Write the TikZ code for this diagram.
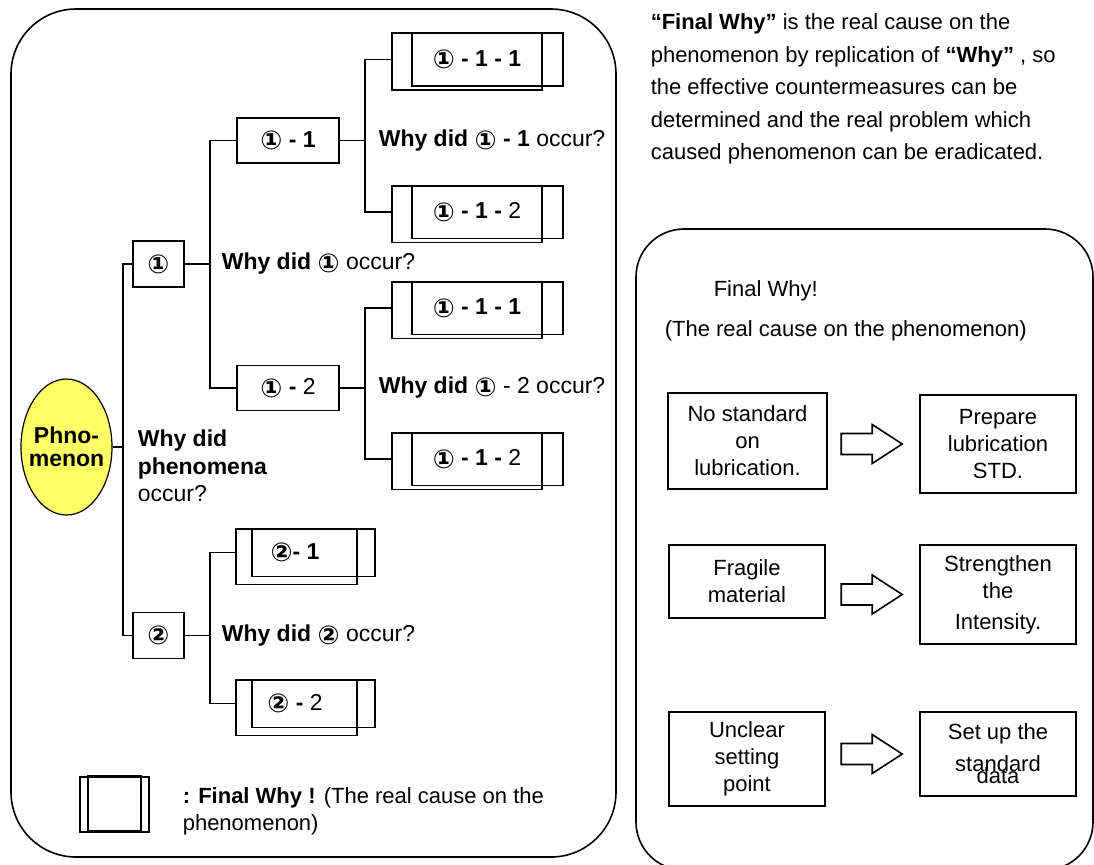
\documentclass[tikz,border=0pt]{standalone}
\usepackage{fontspec}
\setmainfont{Liberation Sans}
\newfontfamily\circfont{DejaVu Sans}
\usepackage{tikz}
\usetikzlibrary{shapes.geometric}
\definecolor{phyellow}{RGB}{255,255,102}
\newcommand{\cnone}{\raisebox{-1.3pt}{\circfont\bfseries\fontsize{13pt}{13pt}\selectfont ①}}
\newcommand{\cntwo}{\raisebox{-1.3pt}{\circfont\bfseries\fontsize{13pt}{13pt}\selectfont ②}}
\tikzset{
  font={\fontsize{11pt}{13.5pt}\selectfont}}

\begin{document}
\begin{tikzpicture}[x=0.5pt,y=-0.5pt,line width=0.8pt]
\tikzstyle{every node}+=[inner sep=0pt]
\tikzstyle{treefont}=[font={\fontsize{11.5pt}{13.75pt}\selectfont\bfseries}]
\tikzstyle{numbox}=[draw,minimum width=25.5pt,minimum height=23pt]
\tikzstyle{subbox}=[draw,treefont,minimum width=51pt,minimum height=22.5pt]
\tikzstyle{finalbox}=[treefont,minimum width=64pt,minimum height=25.5pt]
\tikzstyle{finalboxs}=[treefont,minimum width=42pt,minimum height=23pt]
\tikzstyle{whytext}=[treefont,anchor=west]
\tikzstyle{causebox}=[draw,align=center,minimum width=78pt]
\useasboundingbox (0,0) rectangle (1094,864);
% frames
\draw [rounded corners=32.5pt] (11,9) rectangle (616,857);
\draw [rounded corners=24pt] (636,229) rectangle (1093,870);
% tree
\node [ellipse,draw,fill=phyellow,line width=0.6pt,inner sep=-5pt,minimum width=45.5pt,minimum height=68pt,align=center,treefont] (ph) at (66.5,447) {Phno-\\[-2.5pt]menon};
\node [numbox] (b1) at (158.5,264) {\cnone};
\node [numbox] (b2) at (158.5,635.5) {\cntwo};
\node [subbox] (b11) at (288,140.5) {\cnone\ - 1};
\node [subbox] (b12) at (288,388) {\cnone\ - \mdseries 2};
\node [finalbox] (b111) at (477,59.5) {\cnone\ - 1 - 1};
\node [finalbox] (b112) at (477,212) {\cnone\ - 1 - \mdseries 2};
\node [finalbox] (b121) at (477,308) {\cnone\ - 1 - 1};
\node [finalbox] (b122) at (477,459) {\cnone\ - 1 - \mdseries 2};
\node [finalboxs] (b21) at (295,552.5) {\cntwo- 1};
\node [finalboxs] (b22) at (295,703.5) {\cntwo\ - \mdseries 2};
\foreach \n/\l/\ra/\rb/\d in {b111/10pt/0pt/10.5pt/2pt,b112/10pt/0pt/10.5pt/2pt,
  b121/10pt/0pt/10.5pt/2pt,b122/10pt/0pt/10.5pt/2pt,
  b21/8pt/9.5pt/18.5pt/4pt,b22/8pt/9.5pt/18.5pt/4pt}{
  \draw ([xshift=-\l]\n.north west) rectangle ([xshift=\ra,yshift=-\d]\n.south east);
  \draw (\n.north west) rectangle ([xshift=\rb]\n.south east);
}
\coordinate (t0) at (123,447);
\coordinate (t1) at (210,264);
\coordinate (t2) at (210,635.5);
\coordinate (t11) at (365,140.5);
\coordinate (t12) at (365,388);
\draw (ph.east) -- (t0);
\draw (t0) |- (b1.west);
\draw (t0) |- (b2.west);
\draw (b1.east) -- (t1);
\draw (t1) |- (b11.west);
\draw (t1) |- (b12.west);
\draw (b2.east) -- (t2);
\draw (t2) |- ([xshift=-8pt]b21.west);
\draw (t2) |- ([xshift=-8pt]b22.west);
\draw (b11.east) -- (t11);
\draw (t11) |- ([xshift=-10pt]b111.west);
\draw (t11) |- ([xshift=-10pt]b112.west);
\draw (b12.east) -- (t12);
\draw (t12) |- ([xshift=-10pt]b121.west);
\draw (t12) |- ([xshift=-10pt]b122.west);
% questions
\node [whytext] (q11) at (378,140.5) {Why did \cnone\ - 1 \mdseries occur?};
\node [whytext] (q1) at (221,264) {Why did \cnone\ \mdseries occur?};
\node [whytext] (q12) at (378,388) {Why did \cnone\ \mdseries - 2 occur?};
\node [whytext] (q2) at (221,636) {Why did \cntwo\ \mdseries occur?};
\node [whytext,align=left] (q0) at (137,466) {Why did\\phenomena\\\mdseries occur?};
% legend
\node [draw,minimum width=34.5pt,minimum height=27.5pt] (key) at (114.5,804.5) {};
\draw ([xshift=4.5pt]key.north west) rectangle ([xshift=-4.5pt,yshift=1pt]key.south east);
\node [anchor=west,align=left] (keytext) at (182,811.5) {\textbf{: Final Why !} (The real cause on the\\phenomenon)};
% note
\node [anchor=north west,align=left,font={\fontsize{11pt}{16.25pt}\selectfont}] (note) at (650,13) {\textbf{“Final Why”} is the real cause on the\\phenomenon by replication of \textbf{“Why”} , so\\the effective countermeasures can be\\determined and the real problem which\\caused phenomenon can be eradicated.};
% final why panel
\node [anchor=west] (fw) at (713,291) {Final Why!};
\node [anchor=west] (fwsub) at (664,331) {(The real cause on the phenomenon)};
\node [causebox,minimum width=79.5pt,minimum height=48pt] (c1) at (747.5,441) {No standard\\on\\lubrication.};
\node [causebox,minimum height=36.5pt] (c2) at (747,581.5) {Fragile\\material};
\node [causebox,minimum height=47pt] (c3) at (747,759) {Unclear\\setting\\point};
\node [causebox,minimum height=49pt] (r1) at (998,444) {Prepare\\lubrication\\STD.};
\node [causebox,minimum height=49.5pt] (r2) at (998,594.5) {Strengthen\\the\\[2pt]Intensity.};
\node [causebox,minimum height=42pt] (r3) at (998,754) {Set up the\\[2.5pt]standard\\[-7.5pt]data};
\foreach \c/\r in {c1/r1,c2/r2,c3/r3}
  \draw ([xshift=-8.5pt]\r.west) -- ++(-15pt,9.75pt) -- ++(0,-4.5pt) -- ++(-15.5pt,0)
    -- ++(0,-10.5pt) -- ++(15.5pt,0) -- ++(0,-4.5pt) -- cycle;
\end{tikzpicture}
\end{document}
